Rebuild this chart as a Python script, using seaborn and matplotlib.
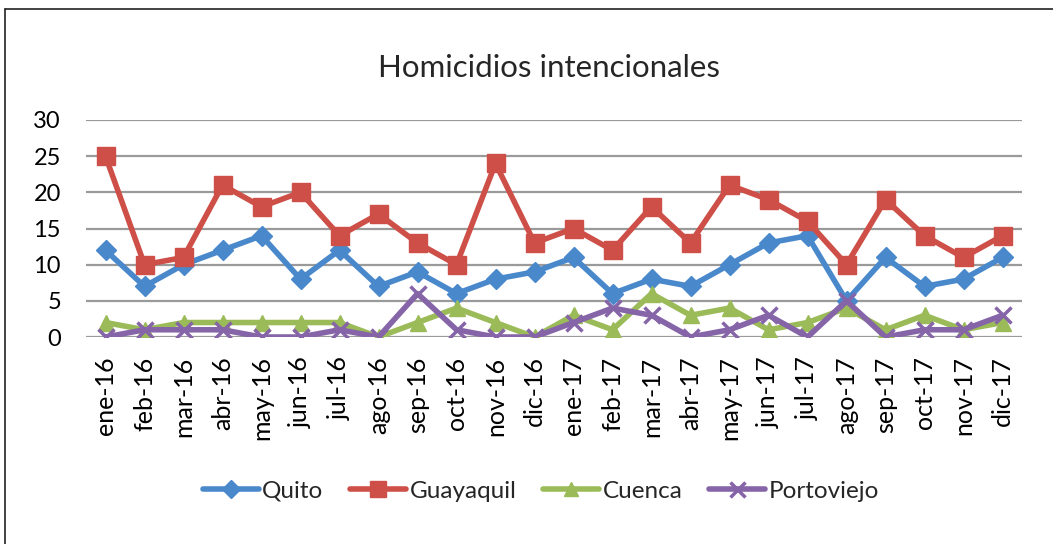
import matplotlib
matplotlib.use("Agg")
import matplotlib.pyplot as plt
import seaborn as sns
import pandas as pd
from matplotlib.lines import Line2D

months = ["ene-16", "feb-16", "mar-16", "abr-16", "may-16", "jun-16", "jul-16", "ago-16",
          "sep-16", "oct-16", "nov-16", "dic-16", "ene-17", "feb-17", "mar-17", "abr-17",
          "may-17", "jun-17", "jul-17", "ago-17", "sep-17", "oct-17", "nov-17", "dic-17"]
quito = [12, 7, 10, 12, 14, 8, 12, 7, 9, 6, 8, 9, 11, 6, 8, 7, 10, 13, 14, 5, 11, 7, 8, 11]
guayaquil = [25, 10, 11, 21, 18, 20, 14, 17, 13, 10, 24, 13, 15, 12, 18, 13, 21, 19, 16, 10, 19, 14, 11, 14]
cuenca = [2, 1, 2, 2, 2, 2, 2, 0, 2, 4, 2, 0, 3, 1, 6, 3, 4, 1, 2, 4, 1, 3, 1, 2]
portoviejo = [0, 1, 1, 1, 0, 0, 1, 0, 6, 1, 0, 0, 2, 4, 3, 0, 1, 3, 0, 5, 0, 1, 1, 3]
series_names = ["Quito", "Guayaquil", "Cuenca", "Portoviejo"]
title = "Homicidios intencionales"
yticks = [0, 5, 10, 15, 20, 25, 30]

colors = ["#4A88CC", "#CD4F47", "#9BBB59", "#8664A8"]
markers = ["D", "s", "^", "x"]
msizes = [10, 13, 11, 12]

sns.set_theme(style="white")
plt.rcParams["font.family"] = ["Lato", "DejaVu Sans"]

W, H = 1053, 544
fig = plt.figure(figsize=(W / 100, H / 100), dpi=100)
ax = fig.add_axes([86 / W, 1 - 337 / H, (1022 - 86) / W, (337 - 120) / H])

rows = []
for name, vals in zip(series_names, [quito, guayaquil, cuenca, portoviejo]):
    for i, (m, v) in enumerate(zip(months, vals)):
        rows.append({"mes": m, "idx": i, "serie": name, "valor": v})
df = pd.DataFrame(rows)

for name, c, mk, ms in zip(series_names, colors, markers, msizes):
    sub = df[df["serie"] == name]
    sns.lineplot(data=sub, x="idx", y="valor", ax=ax, color=c, linewidth=4,
                 marker=mk, markersize=ms, markeredgecolor=c,
                 markeredgewidth=2.5 if mk == "x" else 1, label=name, zorder=3)

ax.set_xlim(-0.5, len(months) - 0.5)
ax.set_ylim(0, 30)
ax.set_yticks(yticks)
ax.set_yticklabels([str(t) for t in yticks], fontsize=17)
ax.set_xticks(range(len(months)))
ax.set_xticklabels(months, rotation=90, fontsize=18)
ax.tick_params(axis="y", length=0, pad=18, colors="black")
ax.tick_params(axis="x", length=0, pad=14, colors="black")
ax.set_xlabel("")
ax.set_ylabel("")
ax.yaxis.grid(True, color="#9A9A9A", linewidth=1.6, zorder=0)
ax.xaxis.grid(False)
for s in ax.spines.values():
    s.set_visible(False)
ax.set_axisbelow(True)

leg = ax.get_legend()
handles, labels = ax.get_legend_handles_labels()
leg.remove()
fig.legend(handles, labels, loc="center", bbox_to_anchor=(541 / W, 1 - 491 / H),
           ncol=4, frameon=False, fontsize=17.5, handlelength=2.3, handletextpad=0.15,
           columnspacing=1.1, markerscale=0.9)

fig.text(549 / W, 1 - 68 / H, title, ha="center", va="center", fontsize=22.5)

fig.add_artist(Line2D([5 / W, 5 / W], [0, 1 - 9 / H], transform=fig.transFigure,
                      color="#222222", linewidth=1.2))
fig.add_artist(Line2D([5 / W, 1], [1 - 9 / H, 1 - 9 / H], transform=fig.transFigure,
                      color="#222222", linewidth=1.2))

fig.savefig("out.png", dpi=100, facecolor="white")
